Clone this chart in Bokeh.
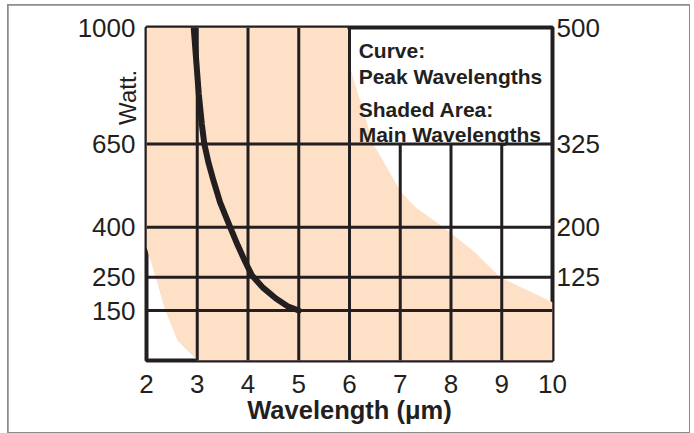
from bokeh.plotting import figure
from bokeh.models import Range1d, LinearAxis, FixedTicker, Label
from bokeh.embed import file_html
from bokeh.resources import INLINE

# ---- data ----
X_TICKS = [2, 3, 4, 5, 6, 7, 8, 9, 10]
LEFT_TICKS = [150, 250, 400, 650, 1000]
RIGHT_TICKS = [125, 200, 325, 500]
GRID_X = [3, 4, 5, 6, 7, 8, 9]
GRID_W = [150, 250, 400, 650]

# peak wavelength curve
curve_x = [2.93, 2.98, 3.03, 3.09, 3.14, 3.22, 3.32, 3.45, 3.65, 3.80, 3.95, 4.08, 4.30, 4.55, 4.78, 5.00]
curve_w = [1000, 900, 800, 710, 650, 595, 540, 475, 400, 345, 295, 255, 218, 186, 163, 150]

# shaded area (main wavelengths) outline
shade_x = [2.0, 2.0, 2.18, 2.37, 2.61, 3.0, 10.0, 10.0, 8.97, 8.45, 7.85, 7.30, 7.00, 6.81, 6.47, 6.03, 5.96]
shade_w = [1000, 340, 250, 150, 60, 0, 0, 175, 250, 328, 400, 460, 509, 560, 650, 870, 1000]

LEGEND_LINES = ["Curve:", "Peak Wavelengths", "Shaded Area:", "Main Wavelengths"]
LEGEND_Y = [931, 853, 754, 680]
LEGEND_BOX_X = 6
LEGEND_BOX_W = 650

INK = "#231f20"
SHADE = "#fde0c6"
FONT = "Liberation Sans"

p = figure(
    frame_width=406, frame_height=333,
    min_border_left=138, min_border_right=137, min_border_top=22, min_border_bottom=72,
    x_range=Range1d(2, 10), y_range=Range1d(0, 1000),
    output_backend="svg", toolbar_location=None,
)
p.styles = {"outline": "2px solid #8c8c8c", "outline-offset": "-1px",
            "margin-left": "8px", "margin-top": "5px"}
p.background_fill_color = "white"
p.border_fill_color = "white"
p.outline_line_color = INK
p.outline_line_width = 4
p.grid.visible = False

p.extra_y_ranges = {"right": Range1d(0, 500)}
p.add_layout(LinearAxis(y_range_name="right", ticker=FixedTicker(ticks=RIGHT_TICKS)), "right")

p.xaxis.ticker = FixedTicker(ticks=X_TICKS)
p.yaxis[0].ticker = FixedTicker(ticks=LEFT_TICKS)

for ax in p.axis:
    ax.axis_line_color = None
    ax.major_tick_line_color = None
    ax.minor_tick_line_color = None
    ax.major_label_text_font = FONT
    ax.major_label_text_font_size = "26px"
    ax.major_label_text_color = INK

p.yaxis[0].major_label_standoff = 5
p.yaxis[1].major_label_standoff = -2
p.xaxis.major_label_standoff = 8
p.xaxis.axis_label = "Wavelength (\u03bcm)"
p.xaxis.axis_label_text_font = FONT
p.xaxis.axis_label_text_font_style = "bold"
p.xaxis.axis_label_text_font_size = "25.5px"
p.xaxis.axis_label_text_color = INK
p.xaxis.axis_label_standoff = 0

# y axis title, placed near the top of the left axis
p.yaxis[0].axis_label = "\u00a0" * 29 + "Watt."
p.yaxis[0].axis_label_text_font = FONT
p.yaxis[0].axis_label_text_font_style = "normal"
p.yaxis[0].axis_label_text_font_size = "24px"
p.yaxis[0].axis_label_text_color = INK
p.yaxis[0].axis_label_standoff = -66

# shaded area
p.patch(shade_x, shade_w, fill_color=SHADE, line_color=None)

# grid lines (the lines right of the legend box stop at its lower edge)
vx0, vx1, vy0, vy1 = [], [], [], []
for gx in GRID_X:
    vx0.append(gx); vx1.append(gx); vy0.append(0)
    vy1.append(LEGEND_BOX_W if gx > LEGEND_BOX_X else 1000)
for gw in GRID_W:
    vx0.append(2); vx1.append(10); vy0.append(gw); vy1.append(gw)
p.segment(vx0, vy0, vx1, vy1, line_color=INK, line_width=3)

# curve
p.line(curve_x, curve_w, line_color=INK, line_width=6, line_cap="round", line_join="round")

# legend text
for txt, ly in zip(LEGEND_LINES, LEGEND_Y):
    p.add_layout(Label(x=6.18, y=ly, text=txt, text_font=FONT, text_font_style="bold",
                       text_font_size="21px", text_color=INK, text_baseline="alphabetic"))

open("out.html", "w").write(file_html(p, INLINE))
